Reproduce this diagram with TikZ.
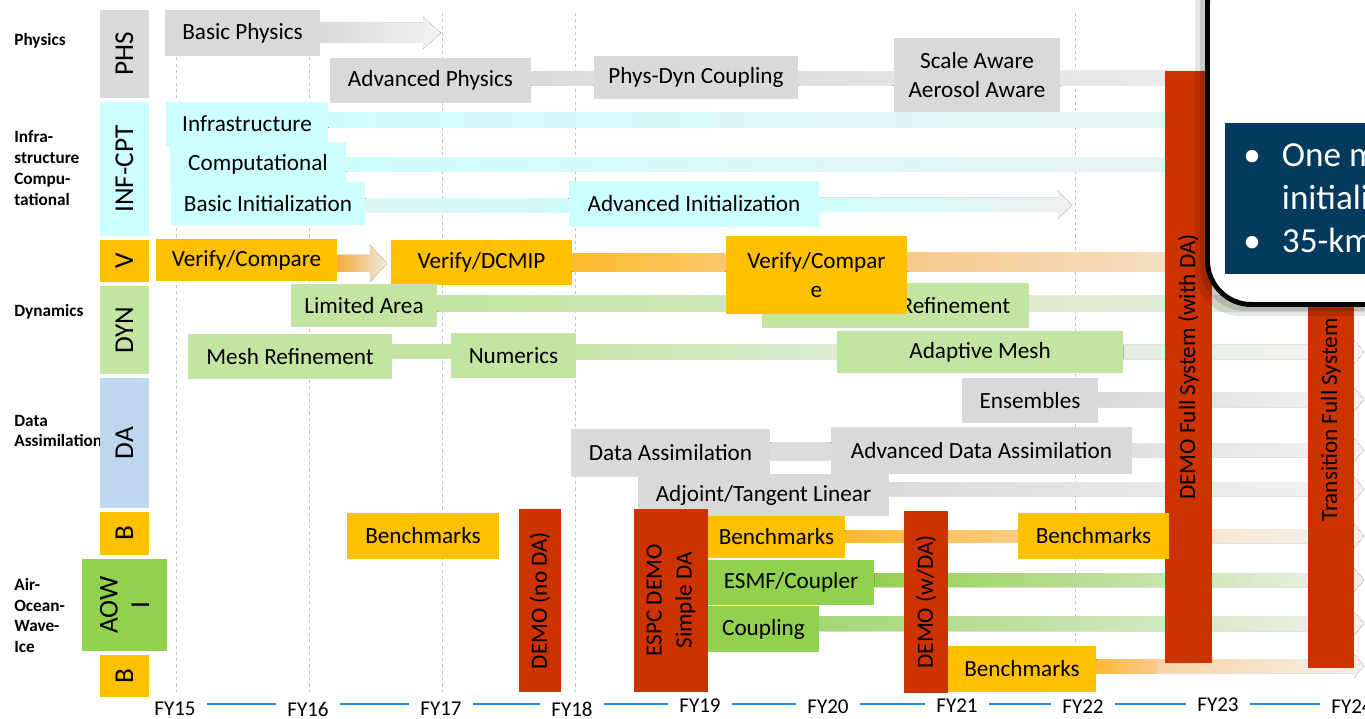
\documentclass[tikz,border=0pt]{standalone}
\usepackage{fontspec}
\setmainfont{Carlito}
\usetikzlibrary{positioning,calc,backgrounds}
\definecolor{boxgray}{HTML}{D9D9D9}
\definecolor{boxcyan}{HTML}{CCFFFF}
\definecolor{boxamber}{HTML}{FFC000}
\definecolor{boxlgreen}{HTML}{C3E5A1}
\definecolor{boxgreen}{HTML}{92D050}
\definecolor{boxblue}{HTML}{BDD7EE}
\definecolor{barred}{HTML}{CC3300}
\definecolor{popnavy}{HTML}{033A5E}
\definecolor{timeblue}{HTML}{1E8CE6}
\definecolor{gridgray}{HTML}{C4C4C4}
\newdimen\pxu \pxu=0.02cm
\newcommand{\boxfont}{\fontsize{13.2}{17}\selectfont}
\newcommand{\colfont}{\fontsize{15.5}{18}\selectfont}
\newcommand{\lblfont}{\fontsize{9.8}{11.9}\selectfont\bfseries}
\newcommand{\fyfont}{\fontsize{12}{14}\selectfont}
\newcommand{\popfont}{\fontsize{20}{24.4}\selectfont}
% flat band: start, end, left colour, right colour (HTML), half width (px)
\newcommand{\flowbar}[5]{%
  \definecolor{flowL}{HTML}{#3}\definecolor{flowR}{HTML}{#4}%
  \fill[left color=flowL,right color=flowR] let \p1=#1,\p2=#2 in
    (\x1,\y1+#5*\pxu) rectangle (\x2,\y1-#5*\pxu);}
% band with head: ... half width, head half height, head length (px)
\newcommand{\flowarrow}[7]{%
  \definecolor{flowL}{HTML}{#3}\definecolor{flowR}{HTML}{#4}%
  \fill[left color=flowL,right color=flowR] let \p1=#1,\p2=#2 in
    (\x1,\y1+#5*\pxu) -- (\x2-#7*\pxu,\y1+#5*\pxu) -- (\x2-#7*\pxu,\y1+#6*\pxu) -- (\x2,\y1)
    -- (\x2-#7*\pxu,\y1-#6*\pxu) -- (\x2-#7*\pxu,\y1-#5*\pxu) -- (\x1,\y1-#5*\pxu) -- cycle;}

\begin{document}
\begin{tikzpicture}[x=0.02cm,y=-0.02cm,
    tbox/.style={inner sep=0pt,align=center,font=\boxfont},
    graybox/.style={tbox,fill=boxgray},
    cyanbox/.style={tbox,fill=boxcyan},
    ambbox/.style={tbox,fill=boxamber},
    lgbox/.style={tbox,fill=boxlgreen},
    gbox/.style={tbox,fill=boxgreen},
    redbar/.style={tbox,fill=barred,rotate=90},
    colbox/.style={inner sep=0pt,align=center,font=\colfont,rotate=90},
    catlbl/.style={anchor=west,align=left,inner sep=0pt,font=\lblfont},
    fylbl/.style={inner sep=0pt,font=\fyfont},
    tline/.style={timeblue,line width=1.7pt},
    vgrid/.style={gridgray,line width=0.5pt,dash pattern=on 1.8pt off 1.8pt}]
  \useasboundingbox (0,0) rectangle (1365,719);
  \clip (0,0) rectangle (1365,719);

  % row titles
  \node[catlbl] (lblphys) at (14,41) {Physics};
  \node[catlbl] (lblinf) at (14,168) {Infra-\\structure\\Compu-\\tational};
  \node[catlbl] (lbldyn) at (14,312) {Dynamics};
  \node[catlbl] (lblda) at (14,431) {Data\\Assimilation};
  \node[catlbl] (lblaow) at (14,615.5) {Air-\\Ocean-\\Wave-\\Ice};

  % tag column
  \node[colbox,fill=boxgray,minimum width=88*\pxu,minimum height=49*\pxu] (colphs) at (124.5,54) {PHS};
  \node[colbox,fill=boxcyan,minimum width=134*\pxu,minimum height=49*\pxu] (colinf) at (124.5,169) {INF-CPT};
  \node[colbox,fill=boxamber,minimum width=42*\pxu,minimum height=49*\pxu] (colv) at (124.5,261) {V};
  \node[colbox,fill=boxlgreen,minimum width=88*\pxu,minimum height=49*\pxu] (coldyn) at (124.5,330) {DYN};
  \node[colbox,fill=boxblue,minimum width=130*\pxu,minimum height=49*\pxu] (colda) at (124.5,443) {DA};
  \node[colbox,fill=boxamber,minimum width=43*\pxu,minimum height=49*\pxu] (colbench) at (124.5,533.5) {B};
  \node[colbox,fill=boxgreen,minimum width=92*\pxu,minimum height=85*\pxu] (colaow) at (124.5,605) {AOW\\I};
  \node[colbox,fill=boxamber,minimum width=42*\pxu,minimum height=49*\pxu] (colbenchb) at (124.5,676) {B};

  % physics
  \node[graybox,minimum width=155*\pxu,minimum height=46*\pxu] (basphys) at (242.5,33) {Basic Physics};
  \node[graybox,minimum width=201*\pxu,minimum height=45*\pxu] (advphys) at (430.5,80.5) {Advanced Physics};
  \node[graybox,minimum width=204*\pxu,minimum height=43*\pxu] (physdyn) at (696,77.5) {Phys-Dyn Coupling};
  \node[graybox,minimum width=166*\pxu,minimum height=74*\pxu] (scaleaw) at (977,75) {Scale Aware\\Aerosol Aware};

  % infrastructure
  \node[cyanbox,minimum width=162*\pxu,minimum height=44*\pxu] (infra) at (247,124) {Infrastructure};
  \node[cyanbox,minimum width=176*\pxu,minimum height=44*\pxu] (comput) at (258,164) {Computational};
  \node[cyanbox,minimum width=194*\pxu,minimum height=43*\pxu] (basinit) at (268,203.5) {Basic Initialization};
  \node[cyanbox,minimum width=250*\pxu,minimum height=46*\pxu] (advinit) at (694,204) {Advanced Initialization};

  % verification + dynamics
  \node[ambbox,minimum width=181*\pxu,minimum height=42*\pxu] (vercomp) at (246.5,260) {Verify/Compare};
  \node[ambbox,minimum width=181*\pxu,minimum height=45*\pxu] (verdcmip) at (481.5,262.5) {Verify/DCMIP};
  \node[lgbox,minimum width=146*\pxu,minimum height=43*\pxu] (limarea) at (364,305.5) {Limited Area};
  \node[lgbox,minimum width=267*\pxu,minimum height=45*\pxu,text width=229*\pxu,align=right] (meshrefb) at (895.5,305.5) {Refinement};
  \node[ambbox,minimum width=181*\pxu,minimum height=78*\pxu] (vercompb) at (816.5,275) {Verify/Compar\\e};
  \node[lgbox,minimum width=204*\pxu,minimum height=45*\pxu] (meshref) at (290,356.5) {Mesh Refinement};
  \node[lgbox,minimum width=125*\pxu,minimum height=45*\pxu] (numerics) at (513.5,355.5) {Numerics};
  \node[lgbox,minimum width=286*\pxu,minimum height=42*\pxu] (adaptive) at (980,352) {Adaptive Mesh};

  % data assimilation
  \node[graybox,minimum width=136*\pxu,minimum height=45*\pxu] (ensembles) at (1030,400.5) {Ensembles};
  \node[graybox,minimum width=199*\pxu,minimum height=48*\pxu] (dataassim) at (670.5,453) {Data Assimilation};
  \node[graybox,minimum width=301*\pxu,minimum height=47*\pxu] (advda) at (981.5,450.5) {Advanced Data Assimilation};
  \node[graybox,minimum width=251*\pxu,minimum height=42*\pxu] (adjoint) at (763.5,495) {Adjoint/Tangent Linear};

  % demos
  \node[redbar,minimum width=183*\pxu,minimum height=42*\pxu] (demonoda) at (540,600.5) {DEMO (no DA)};
  \node[redbar,minimum width=183*\pxu,minimum height=74*\pxu] (espcdemo) at (671,600.5) {ESPC DEMO\\Simple DA};
  \node[redbar,minimum width=182*\pxu,minimum height=44*\pxu] (demowda) at (926,602) {DEMO (w/DA)};
  \node[redbar,minimum width=592*\pxu,minimum height=47*\pxu] (demofull) at (1188.5,367) {DEMO Full System (with DA)};
  \node[redbar,minimum width=496*\pxu,minimum height=46*\pxu] (transfull) at (1331,420) {Transition Full System};

  % benchmarks + coupled
  \node[ambbox,minimum width=152*\pxu,minimum height=46*\pxu] (benchpre) at (423,536) {Benchmarks};
  \node[ambbox,minimum width=137*\pxu,minimum height=42*\pxu] (benchsim) at (776.5,537) {Benchmarks};
  \node[ambbox,minimum width=151*\pxu,minimum height=46*\pxu] (benchdemo) at (1093.5,536) {Benchmarks};
  \node[gbox,minimum width=166*\pxu,minimum height=45*\pxu] (esmf) at (791,582.5) {ESMF/Coupler};
  \node[gbox,minimum width=111*\pxu,minimum height=46*\pxu] (coupling) at (763.5,629) {Coupling};
  \node[ambbox,minimum width=148*\pxu,minimum height=46*\pxu] (benchaow) at (1022,669) {Benchmarks};

  % ends of the bands
  \coordinate (physend) at (441,33);
  \coordinate (verend) at (387,0);
  \coordinate (initend) at (1072,0);
  \coordinate (rim) at (1364,0);
  \coordinate (tl) at (0,704);

  \begin{scope}[on background layer]
    \foreach \gx in {176,309,442,575,1075}
      \draw[vgrid] (\gx,13) -- (\gx,692);
    \flowarrow{(basphys.east)}{(physend)}{D9D9D9}{F2F2F2}{10}{16}{18}
    \flowbar{($(advphys.east)+(0,-1.5)$)}{(physdyn.west)}{D9D9D9}{DEDEDE}{7}
    \flowbar{($(physdyn.east)+(0,1.5)$)}{(scaleaw.west)}{DEDEDE}{E3E3E3}{7}
    \flowbar{($(scaleaw.east)+(0,3.5)$)}{(rim)}{E6E6E6}{F2F2F2}{7.5}
    \flowbar{($(infra.east)+(0,-3.5)$)}{(rim)}{CFFDFD}{EEF1F1}{7.5}
    \flowbar{($(comput.east)+(0,1)$)}{(rim)}{CFFDFD}{EEF1F1}{7}
    \flowbar{($(basinit.east)+(0,2)$)}{(advinit.west)}{DCF6F6}{D0FAFA}{7}
    \flowarrow{($(advinit.east)+(0,1)$)}{(initend)}{CCFFFF}{F0F0F0}{7}{14}{14}
    \flowarrow{($(vercomp.east)+(-8,3.5)$)}{(verend)}{F7A01C}{EEEAE6}{8.5}{18.5}{17}
    \flowbar{($(verdcmip.east)+(0,0.5)$)}{(vercompb.west)}{FDBA2C}{FBC86E}{9}
    \flowbar{($(vercompb.east)+(0,-12.5)$)}{(rim)}{F7C98E}{F3EEE8}{9.5}
    \flowbar{($(limarea.east)+(0,-1.5)$)}{(rim)}{C3E5A1}{E9EEE5}{8}
    \flowbar{($(meshref.east)+(0,-5)$)}{(numerics.west)}{C3E5A1}{C3E5A1}{6.5}
    \flowbar{($(numerics.east)+(0,-3.5)$)}{(adaptive.west)}{C6E6A8}{DCEBD3}{7}
    \flowarrow{(adaptive.east)}{(rim)}{E3ECDD}{F5F5F5}{7}{12}{10}
    \flowarrow{($(ensembles.east)+(0,-1)$)}{(rim)}{D9D9D9}{F3F3F3}{7.5}{12}{10}
    \flowbar{($(dataassim.east)+(0,-2)$)}{(advda.west)}{DCDCDC}{DCDCDC}{9}
    \flowarrow{($(advda.east)+(0,-0.5)$)}{(rim)}{E0E0E0}{F4F4F4}{7}{12}{10}
    \flowarrow{($(adjoint.east)+(0,-6)$)}{(rim)}{DADADA}{F3F3F3}{7}{12}{10}
    \flowbar{($(benchsim.east)+(0,-1)$)}{(benchdemo.west)}{FDB92C}{FCCB82}{6}
    \flowarrow{(benchdemo.east)}{(rim)}{F6E2CC}{F5F2EF}{7}{12}{10}
    \flowarrow{($(esmf.east)+(0,-2.5)$)}{(rim)}{92D050}{EFF1ED}{7}{12}{10}
    \flowarrow{($(coupling.east)+(0,-5.5)$)}{(rim)}{A3D774}{EFF1ED}{7.5}{12}{10}
    \flowarrow{($(benchaow.east)+(0,-3)$)}{(rim)}{FAC98E}{F5F1ED}{7}{12}{10}
    \flowbar{($(benchaow.east)+(0,-3)$)}{($(benchaow.east)+(60,0)$)}{FDB93A}{FAC98E}{7}
  \end{scope}

  % time axis
  \node[fylbl] (fy15) at (175,709) {FY15};
  \node[fylbl] (fy16) at (308,709) {FY16};
  \node[fylbl] (fy17) at (441,709) {FY17};
  \node[fylbl] (fy18) at (572,709) {FY18};
  \node[fylbl] (fy19) at (700,706) {FY19};
  \node[fylbl] (fy20) at (828,707) {FY20};
  \node[fylbl] (fy21) at (957,706) {FY21};
  \node[fylbl] (fy22) at (1083,707) {FY22};
  \node[fylbl] (fy23) at (1218,705) {FY23};
  \node[fylbl] (fy24) at (1352,707) {FY24};
  \foreach \a/\b in {fy15/fy16,fy16/fy17,fy17/fy18,fy18/fy19,fy19/fy20,fy20/fy21,fy21/fy22,fy22/fy23,fy23/fy24}
    \draw[tline] ($(\a.east |- tl)+(11,0)$) -- ($(\b.west |- tl)+(-11,0)$);

  % call-out
  \fill[black,opacity=0.10,rounded corners=26pt] (1195,-40) rectangle (1440,316);
  \fill[black,opacity=0.12,rounded corners=26pt] (1200,-40) rectangle (1440,311);
  \node[draw=black,line width=2.8pt,fill=white,rounded corners=25pt,inner sep=0pt,
        minimum width=232*\pxu,minimum height=345*\pxu] (popup) at (1323.5,132) {};
  \node[fill=popnavy,inner sep=0pt,minimum width=155*\pxu,minimum height=151*\pxu] (infobox) at (1302.5,198.5) {};
  \node[anchor=base west,inner sep=0pt,text=white,font=\popfont] (infotext) at (1243,167)
    {\begin{tabular}[t]{@{}l@{\hspace{12pt}}l@{}}\textbullet & One m\\ & initiali\\ \textbullet & 35-km\end{tabular}};
\end{tikzpicture}
\end{document}
